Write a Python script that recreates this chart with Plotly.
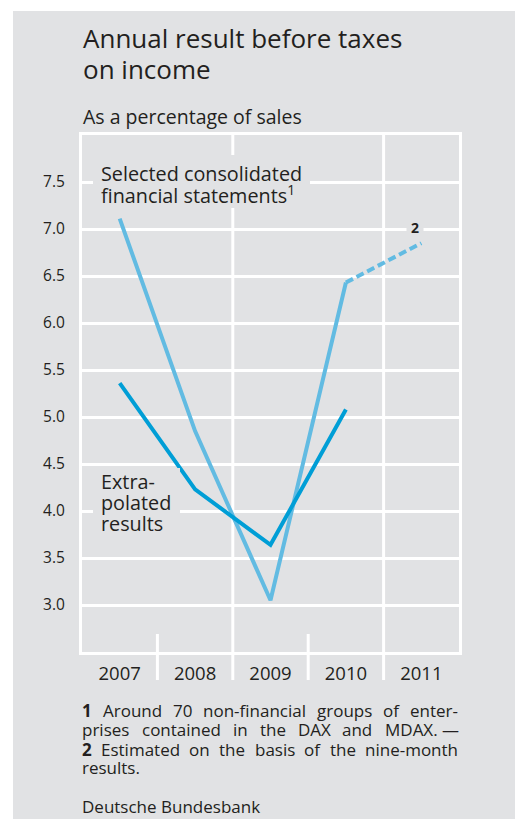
import plotly.graph_objects as go

# data
years = [2007, 2008, 2009, 2010, 2011]
consolidated = [7.11, 4.85, 3.05, 6.43, 6.85]      # 2011 is an estimate (dashed)
extrapolated = [5.36, 4.23, 3.64, 5.08]
y_ticks = [3.0, 3.5, 4.0, 4.5, 5.0, 5.5, 6.0, 6.5, 7.0, 7.5]

BG = "#e1e2e4"
LIGHT = "#62bbe2"
DARK = "#009ed6"
TXT = "#231f20"
FONT = "Open Sans"

W, H = 515, 819
L, R, T, B = 82, 459, 135, 652   # plot area in pixels


def px_x(px):
    return (px - L) / (R - L)


def px_y(py):
    return (B - py) / (B - T)


fig = go.Figure()

fig.add_trace(go.Scatter(
    x=years[:4], y=consolidated[:4], mode="lines",
    line=dict(color=LIGHT, width=4), hoverinfo="skip"
))
fig.add_trace(go.Scatter(
    x=years[3:], y=consolidated[3:], mode="lines",
    line=dict(color=LIGHT, width=4, dash="8px,4px"), hoverinfo="skip"
))
fig.add_trace(go.Scatter(
    x=years[:4], y=extrapolated, mode="lines",
    line=dict(color=DARK, width=4), hoverinfo="skip"
))

# grey panel behind everything
shapes = [dict(type="rect", xref="paper", yref="paper", layer="below",
               x0=px_x(13), x1=px_x(W + 5), y0=px_y(H + 5), y1=px_y(11),
               fillcolor=BG, line_width=0)]

# category separators: full height at 2008|2009 and 2010|2011, short ones elsewhere
x0, x1 = years[0] - 0.5, years[-1] + 0.5
for i, yr in enumerate(years[:-1]):
    xb = (yr + 0.5 - x0) / (x1 - x0)
    top = 1 if i % 2 == 1 else px_y(634)
    shapes.append(dict(type="line", xref="paper", yref="paper", layer="below",
                       x0=xb, x1=xb, y0=px_y(680), y1=top,
                       line=dict(color="white", width=3)))

# grey boxes that break the grid behind the line labels
for bx0, by0, bx1, by1 in [(93, 155, 310, 208), (93, 468, 180, 537)]:
    shapes.append(dict(type="rect", xref="paper", yref="paper", layer="above",
                       x0=px_x(bx0), x1=px_x(bx1), y0=px_y(by1), y1=px_y(by0),
                       fillcolor=BG, line_width=0))

annotations = []


def text(t, px, py, size, anchor="left", bold=False, **kw):
    annotations.append(dict(text=f"<b>{t}</b>" if bold else t,
                            x=px_x(px), y=px_y(py), xanchor=anchor, yanchor="middle",
                            font=dict(size=size, color=TXT), **kw))


# titles
text("Annual result before taxes", 81, 38, 26)
text("on income", 81, 69, 26)
text("As a percentage of sales", 81, 117, 19.5)

# series labels
text("Selected consolidated", 99, 173, 19.8)
text("financial statements<sup>1</sup>", 99, 194, 19.8)
text("Extra-", 99, 481, 19.8)
text("polated", 99, 502, 19.8)
text("results", 99, 523, 19.8)
text("2", 415, 227, 14, anchor="center", bold=True, bgcolor=BG, borderpad=4)

# footnotes: justified between the plot edges, using rough Open Sans advance widths
ADV = {" ": .26, "-": .322, ".": .266, "—": 1.0,
       "A": .633, "D": .712, "E": .549, "M": .871, "X": .564,
       "a": .556, "b": .613, "c": .476, "d": .613, "e": .561, "f": .339, "g": .548,
       "h": .614, "i": .253, "l": .253, "m": .93, "n": .614, "o": .604, "p": .613,
       "r": .408, "s": .477, "t": .353, "u": .614}
FOOT_SIZE = 17


def word_width(w):
    return sum(ADV.get(c, .572) for c in w) * FOOT_SIZE


foot_lines = [
    (716, ["1", "Around", "70", "non-financial", "groups", "of", "enter-"], True),
    (735, ["prises", "contained", "in", "the", "DAX", "and", "MDAX. —"], True),
    (755, ["2", "Estimated", "on", "the", "basis", "of", "the", "nine-month"], True),
    (773, ["results."], False),
    (812, ["Deutsche Bundesbank"], False),
]
for base, words, justify in foot_lines:
    widths = [word_width(w) for w in words]
    gap = (R - 1 - L - sum(widths)) / (len(words) - 1) if justify else 0
    xpos = L
    for j, w in enumerate(words):
        bold = justify and j == 0 and w in ("1", "2")
        text(w, xpos, base - 6, FOOT_SIZE, bold=bold, borderpad=0, borderwidth=0)
        xpos += widths[j] + gap

for a in annotations:
    a.update(xref="paper", yref="paper", showarrow=False)

fig.update_layout(
    width=W, height=H,
    margin=dict(l=L, r=W - R, t=T, b=H - B, pad=0),
    paper_bgcolor="white", plot_bgcolor=BG,
    showlegend=False,
    font=dict(family=FONT, color=TXT),
    shapes=shapes, annotations=annotations,
)
fig.update_xaxes(
    range=[x0, x1], tickvals=years, ticktext=[str(y) for y in years],
    showgrid=False, zeroline=False, ticks="",
    showline=True, mirror=True, linecolor="white", linewidth=3,
    tickfont=dict(size=18.5, color=TXT), ticklabelstandoff=3,
)
fig.update_yaxes(
    range=[2.5, 8.0], tickvals=y_ticks, ticktext=[f"{v:.1f}" for v in y_ticks],
    showgrid=True, gridcolor="white", gridwidth=3, zeroline=False, ticks="",
    showline=True, mirror=True, linecolor="white", linewidth=3,
    tickfont=dict(size=15.5, color=TXT), ticklabelstandoff=11,
)

fig.write_html("out.html", config={"displayModeBar": False},
               post_script="document.body.style.margin='0';")
